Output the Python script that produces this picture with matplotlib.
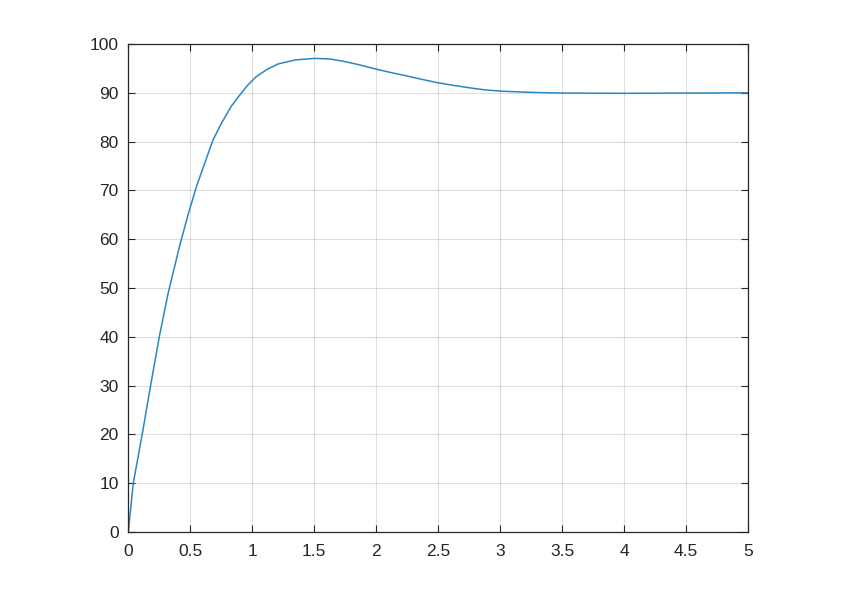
import matplotlib.pyplot as plt

# step response
t = [0, 0.04, 0.112, 0.18, 0.25, 0.322, 0.416, 0.482, 0.55, 0.617, 0.683,
     0.75, 0.83, 0.898, 0.965, 1.032, 1.113, 1.206, 1.35, 1.5, 1.62, 1.74, 1.87,
     2.0, 2.12, 2.24, 2.37, 2.5, 2.63, 2.76, 2.88, 3.0, 3.24, 3.5, 4.0, 4.5, 5.0]
y = [0, 10, 20, 30, 40, 49.0, 58.8, 65.0, 70.8, 75.6, 80.3,
     83.7, 87.2, 89.5, 91.6, 93.3, 94.7, 95.9, 96.75, 97.05, 96.95, 96.45, 95.7,
     94.85, 94.15, 93.5, 92.75, 92.05, 91.5, 91.0, 90.6, 90.35, 90.1, 89.95, 89.9, 89.95, 90.0]

x_ticks = [0, 0.5, 1, 1.5, 2, 2.5, 3, 3.5, 4, 4.5, 5]
x_labels = ["0", "0.5", "1", "1.5", "2", "2.5", "3", "3.5", "4", "4.5", "5"]
y_ticks = [0, 10, 20, 30, 40, 50, 60, 70, 80, 90, 100]

plt.rcParams['font.family'] = ['Liberation Sans', 'DejaVu Sans']

fig = plt.figure(figsize=(8.48, 5.99), dpi=100)
ax = fig.add_axes([0.1513, 0.1119, 0.7307, 0.8146])

ax.plot(t, y, color='#2a86c2', linewidth=1.1)

ax.set_xlim(0, 5)
ax.set_ylim(0, 100)
ax.set_xticks(x_ticks)
ax.set_xticklabels(x_labels)
ax.set_yticks(y_ticks)

ax.grid(True, color='#262626', alpha=0.15, linewidth=0.8)
ax.set_axisbelow(True)
ax.tick_params(direction='in', length=5, width=0.8, colors='#262626',
               labelsize=12.5, top=True, right=True, pad=7)
ax.tick_params(axis='x', pad=9)
for s in ax.spines.values():
    s.set_color('#262626')
    s.set_linewidth(0.9)

plt.savefig("out.png", dpi=100)
plt.close()
